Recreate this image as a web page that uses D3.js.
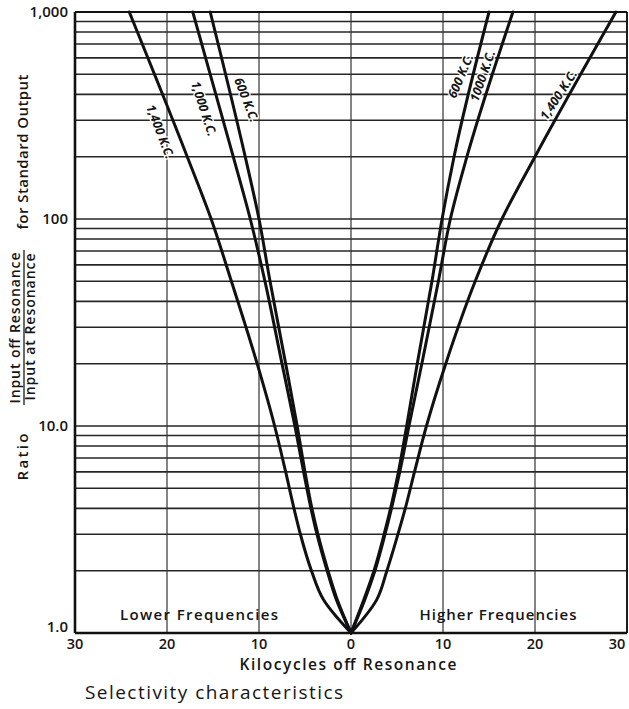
<!DOCTYPE html>
<html>
<head>
<meta charset="utf-8">
<script src="https://cdn.jsdelivr.net/npm/d3@7"></script>
<style>
  html, body { margin: 0; padding: 0; background: #fff; }
  svg { display: block; }
  text { font-family: "Open Sans", "DejaVu Sans", sans-serif; fill: #151515; }
</style>
</head>
<body>
<svg id="chart" width="629" height="709"></svg>
<script>
// ---------- data ----------
const xTicks = [-30, -20, -10, 0, 10, 20, 30];
const yTicks = [1, 10, 100, 1000];
const yTickLabels = ["1.0", "10.0", "100", "1,000"];
const gridRatios = [1,2,3,4,5,6,7,8,9,10,20,30,40,50,60,70,80,90,100,200,300,400,500,600,700,800,900,1000];

// ratio levels where the curves were read
const levels = [1, 1.45, 2, 3, 4, 6, 10, 20, 50, 100, 200, 1000];
// kilocycles off resonance, lower side (drawn to the left)
const lower1400 = [0, 3.0, 4.3, 5.5, 6.2, 7.1, 8.3, 10.2, 13.0, 15.2, 17.8, 24.1];
const lower1000 = [0, 1.6, 2.6, 3.7, 4.35, 5.15, 6.1, 7.5, 9.35, 10.95, 12.8, 17.2];
const lower600  = [0, 1.5, 2.5, 3.6, 4.25, 5.0, 5.85, 7.1, 8.8, 10.0, 11.5, 15.3];
// higher side (drawn to the right)
const higher600  = [0, 1.4, 2.5, 3.6, 4.3, 5.15, 6.05, 7.2, 8.8, 9.9, 11.2, 15.0];
const higher1000 = [0, 1.5, 2.6, 3.7, 4.4, 5.3, 6.3, 7.7, 9.5, 10.8, 12.6, 17.6];
const higher1400 = [0, 2.8, 3.9, 5.1, 5.9, 6.9, 8.2, 10.3, 13.5, 16.4, 20.0, 28.8];

// curve labels: text, ratio at label, angle
const labelTexts  = ["1,400 K.C.", "1,000 K.C.", "600 K.C.", "600 K.C.", "1000 K.C.", "1,400 K.C."];
const labelRatios = [264, 341, 376, 491, 491, 398];
const labelAngles = [69, 72, 69, -67, -71, -57];

// ---------- layout ----------
const svg = d3.select("#chart");
const L = 75, R = 627, T = 12, B = 633;
const x = d3.scaleLinear().domain([-30, 30]).range([L, R]);
const y = d3.scaleLog().domain([1, 1000]).range([B, T]);

// horizontal grid
svg.append("g").selectAll("line").data(gridRatios).join("line")
  .attr("x1", L).attr("x2", R)
  .attr("y1", d => y(d)).attr("y2", d => y(d))
  .attr("stroke", "#262626").attr("stroke-width", 1.6);

// vertical grid
svg.append("g").selectAll("line").data(xTicks).join("line")
  .attr("x1", d => x(d)).attr("x2", d => x(d))
  .attr("y1", T).attr("y2", B)
  .attr("stroke", "#333").attr("stroke-width", 1.2);

// frame
svg.append("line").attr("x1", L).attr("x2", L).attr("y1", T).attr("y2", B)
  .attr("stroke", "#111").attr("stroke-width", 2.6);
svg.append("line").attr("x1", L).attr("x2", R).attr("y1", B).attr("y2", B)
  .attr("stroke", "#111").attr("stroke-width", 2.6);
svg.append("line").attr("x1", L).attr("x2", R).attr("y1", T).attr("y2", T)
  .attr("stroke", "#111").attr("stroke-width", 2.2);
svg.append("line").attr("x1", R).attr("x2", R).attr("y1", T).attr("y2", B)
  .attr("stroke", "#111").attr("stroke-width", 1.8);

// x tick labels
svg.append("g").selectAll("text").data(xTicks).join("text")
  .attr("x", d => Math.min(x(d), 617)).attr("y", 649)
  .attr("text-anchor", "middle")
  .attr("font-size", 14.5).attr("font-weight", 600)
  .text(d => Math.abs(d));

// y tick labels
svg.append("g").selectAll("text").data(yTicks).join("text")
  .attr("x", 68)
  .attr("y", (d, i) => i === 0 ? y(d) - 1 : y(d) + 5)
  .attr("text-anchor", "end")
  .attr("font-size", 15).attr("font-weight", 600)
  .text((d, i) => yTickLabels[i]);

// curves (kilocycles as a function of the ratio)
const series = [
  {kc: lower1400, sign: -1}, {kc: lower1000, sign: -1}, {kc: lower600, sign: -1},
  {kc: higher600, sign: 1}, {kc: higher1000, sign: 1}, {kc: higher1400, sign: 1}
];
const line = d3.line().curve(d3.curveMonotoneY);
series.forEach(s => {
  const pts = levels.map((r, i) => [x(s.sign * s.kc[i]), y(r)]).reverse();
  svg.append("path").attr("d", line(pts))
    .attr("fill", "none").attr("stroke", "#111").attr("stroke-width", 3)
    .attr("stroke-linecap", "round");
});

// curve labels, placed beside their curve
const logLevels = levels.map(Math.log10);
function kcAt(s, r) {
  return d3.scaleLinear().domain(logLevels).range(s.kc)(Math.log10(r)) * s.sign;
}
const labelSeries = [0, 1, 2, 3, 4, 5];
const labelShift = [-17, -16, 15, -13, -10, -11]; // sideways gap from curve, px
svg.append("g").selectAll("text").data(labelSeries).join("text")
  .attr("transform", i => `translate(${x(kcAt(series[i], labelRatios[i])) + labelShift[i]},${y(labelRatios[i])}) rotate(${labelAngles[i]})`)
  .attr("text-anchor", "middle").attr("dy", "0.35em")
  .attr("font-size", 12.5).attr("font-weight", 700).attr("font-style", "italic")
  .attr("stroke", "#fff").attr("stroke-width", 2.5).attr("paint-order", "stroke")
  .text(i => labelTexts[i]);

// region labels
svg.append("text").attr("x", 199).attr("y", 620).attr("text-anchor", "middle")
  .attr("font-size", 15).attr("font-weight", 600)
  .attr("textLength", 158).attr("lengthAdjust", "spacing").text("Lower Frequencies");
svg.append("text").attr("x", 498).attr("y", 620).attr("text-anchor", "middle")
  .attr("font-size", 15).attr("font-weight", 600)
  .attr("textLength", 157).attr("lengthAdjust", "spacing").text("Higher Frequencies");

// axis titles
svg.append("text").attr("x", 348).attr("y", 670).attr("text-anchor", "middle")
  .attr("font-size", 15.5).attr("font-weight", 600)
  .attr("textLength", 217).attr("lengthAdjust", "spacing").text("Kilocycles off Resonance");
svg.append("text").attr("x", 85).attr("y", 699).attr("text-anchor", "start")
  .attr("font-size", 19).attr("font-weight", 500)
  .attr("textLength", 258).attr("lengthAdjust", "spacing").text("Selectivity characteristics");

// y-axis title
const yl = svg.append("g").attr("font-weight", 600);
yl.append("text").attr("transform", "translate(28,152) rotate(-90)")
  .attr("text-anchor", "middle").attr("font-size", 15)
  .attr("textLength", 155).attr("lengthAdjust", "spacing").text("for Standard Output");
yl.append("text").attr("transform", "translate(20,328) rotate(-90)")
  .attr("text-anchor", "middle").attr("font-size", 14)
  .attr("textLength", 151).attr("lengthAdjust", "spacing").text("Input off Resonance");
yl.append("line").attr("x1", 24).attr("x2", 24).attr("y1", 250).attr("y2", 405)
  .attr("stroke", "#1a1a1a").attr("stroke-width", 1.3);
yl.append("text").attr("transform", "translate(35,327) rotate(-90)")
  .attr("text-anchor", "middle").attr("font-size", 14)
  .attr("textLength", 147).attr("lengthAdjust", "spacing").text("Input at Resonance");
yl.append("text").attr("transform", "translate(28,457) rotate(-90)")
  .attr("text-anchor", "middle").attr("font-size", 15)
  .attr("textLength", 47).attr("lengthAdjust", "spacing").text("Ratio");
</script>
</body>
</html>
